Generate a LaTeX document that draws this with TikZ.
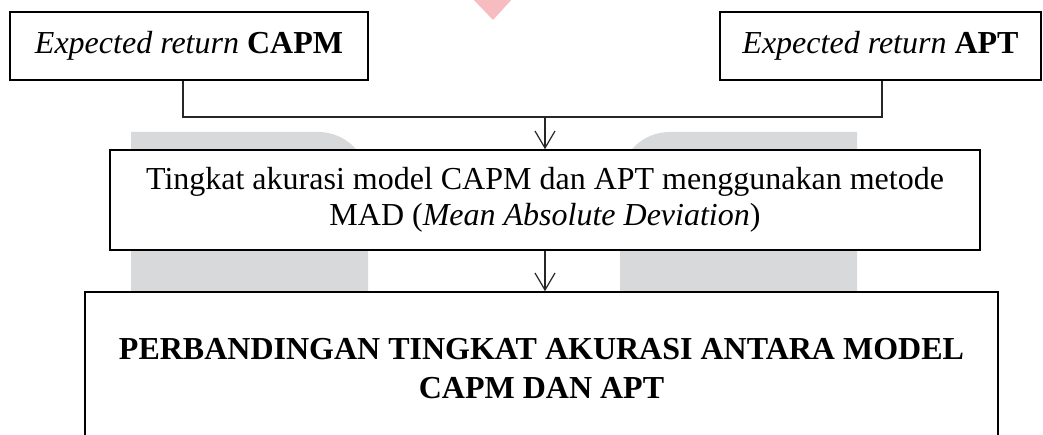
\documentclass[tikz,border=0pt]{standalone}
\usepackage{fontspec}
\setmainfont{Liberation Serif}
\usetikzlibrary{arrows.meta}
\definecolor{wmgray}{RGB}{216,217,219}
\definecolor{wmpink}{RGB}{247,188,192}
\tikzset{
  box/.style={draw=black, line width=1.6pt, fill=white, inner sep=0pt, align=center,
    font=\fontsize{32}{36}\selectfont},
  conn/.style={draw=black!85, line width=1.2pt},
  arr/.style={conn, -{Straight Barb[length=17pt,width=20pt,line width=1.2pt]}},
}
\begin{document}
\begin{tikzpicture}[x=1pt,y=-1pt]
\clip (0,0) rectangle (1043,435);
\fill[white] (0,0) rectangle (1043,435);
% watermark shapes
\fill[wmgray] (131,300) -- (131,132) -- (318,132) .. controls (346,132) and (368,154) .. (368,182) -- (368,300) -- cycle;
\fill[wmgray] (620,300) -- (620,182) .. controls (620,154) and (642,132) .. (670,132) -- (857,132) -- (857,300) -- cycle;
\fill[wmpink] (472,-2) -- (513,-2) -- (493,20) -- cycle;
% nodes
\node[box, minimum width=358pt, minimum height=68pt] (capm) at (189,46) {\textit{Expected return} \textbf{CAPM}};
\node[box, minimum width=321pt, minimum height=68pt] (apt) at (880.5,46) {\textit{Expected return} \textbf{APT}};
\node[box, minimum width=870pt, minimum height=100pt] (mid) at (545,200)
  {Tingkat akurasi model CAPM dan APT menggunakan metode\\MAD (\textit{Mean Absolute Deviation})};
\node[box, minimum width=913pt, minimum height=153pt, font=\fontsize{32}{39}\selectfont\bfseries] (res) at (541.5,368.5)
  {PERBANDINGAN TINGKAT AKURASI ANTARA MODEL\\CAPM DAN APT};
\coordinate (j) at (545,117);
% connectors
\draw[conn] ([xshift=-6pt]capm.south) |- (j) -| ([xshift=1.5pt]apt.south);
\draw[arr] (j) -- (mid.north);
\draw[arr] (mid.south) -- (mid.south |- res.north);
\end{tikzpicture}
\end{document}
